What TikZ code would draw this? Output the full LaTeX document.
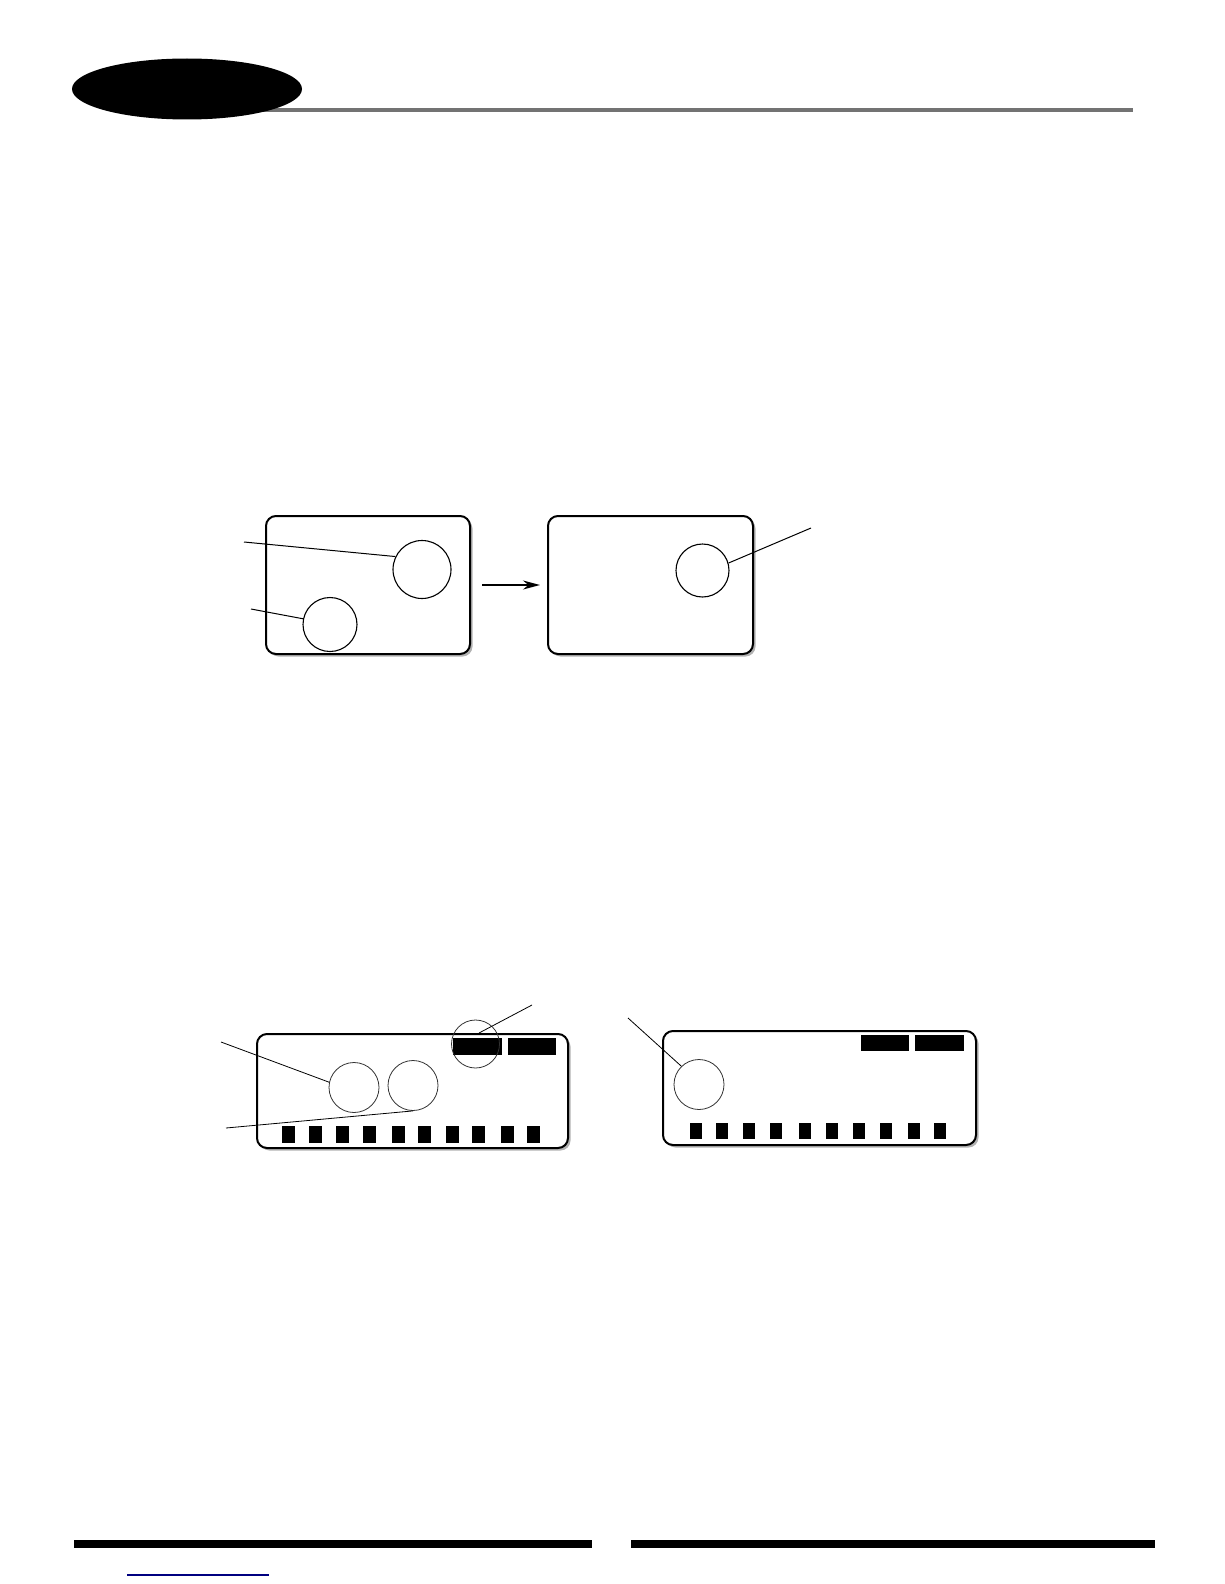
\documentclass[tikz,border=0pt]{standalone}
\usetikzlibrary{shapes, arrows.meta, shadows}

\begin{document}
\begin{tikzpicture}[
        x = 1pt, y = -1pt,
        every node/.style = {inner sep=0pt},
        screen/.style = {rectangle, draw, line width=2pt, rounded corners=10pt, fill=white,
            drop shadow={shadow xshift=2.5pt, shadow yshift=-2.5pt, fill=black!60}},
        spot/.style = {circle, draw, line width=1.1pt},
        thinspot/.style = {circle, draw=black!80, line width=0.8pt},
        leader/.style = {draw, line width=1pt},
        line/.style = {draw, line width=1.6pt, -{Stealth[length=17pt, width=9pt]}},
        key/.style = {fill=black}
    ]
    \useasboundingbox (0,0) rectangle (1224,1584);

    % Header
    \draw [line width=4pt, black!55] (200,110) -- (1133,110);
    \node (badge) [ellipse, fill, minimum width=230pt, minimum height=61pt] at (187,89) {};

    % Nodes
    \node (before) [screen, minimum width=204pt, minimum height=138pt] at (368,585) {};
    \node (after) [screen, minimum width=205pt, minimum height=138pt] at (650.5,585) {};
    \node (spotA) [spot, minimum size=58pt] at (422,569.5) {};
    \node (spotB) [spot, minimum size=54pt] at (330,624.5) {};
    \node (spotC) [spot, minimum size=53pt] at (702.5,570.5) {};

    % Lines
    \path [line, shorten <=11pt, shorten >=7pt] (before) -- (after);
    \coordinate (tagA) at (244,542);
    \coordinate (tagB) at (251,609);
    \coordinate (tagC) at (811,528);
    \path [leader] (tagA) -- (spotA.154);
    \path [leader] (tagB) -- (spotB.168);
    \path [leader] (spotC.16) -- (tagC);

    % Panels
    \node (panelL) [screen, minimum width=311pt, minimum height=114pt] at (412.5,1091) {};
    \node (panelR) [screen, minimum width=313pt, minimum height=114pt] at (819.5,1088) {};
    \fill [key] (453,1038) rectangle (502,1055);
    \fill [key] (508,1038) rectangle (556,1055);
    \fill [key] (861,1035) rectangle (909,1051);
    \fill [key] (915,1035) rectangle (964,1051);
    \foreach \kx in {282, 309, 336, 363, 392, 418, 446, 472, 501, 527}
        \fill [key] (\kx,1126) rectangle ++(12.5,17);
    \foreach \kx in {690, 716, 743, 770, 799, 826, 853, 880, 908, 934}
        \fill [key] (\kx,1123) rectangle ++(12,16);
    \node (spotD) [thinspot, minimum size=48pt] at (475.5,1044) {};
    \node (spotE) [thinspot, minimum size=50pt] at (354,1087.5) {};
    \node (spotF) [thinspot, minimum size=50pt] at (413,1085.5) {};
    \node (spotG) [thinspot, minimum size=50pt] at (699,1084.5) {};

    % Leaders of the panels
    \coordinate (tagD) at (532,1005);
    \coordinate (tagE) at (221,1042);
    \coordinate (tagF) at (226,1128);
    \coordinate (tagG) at (628,1018);
    \path [leader, line width=0.8pt] (tagD) -- ([shift={(3.5,-11)}]spotD.center);
    \path [leader, line width=0.8pt] (tagE) -- (spotE.168);
    \path [leader, line width=0.8pt] (tagF) -- (spotF.south);
    \path [leader, line width=0.8pt] (tagG) -- (spotG.134);

    % Footer
    \fill (74,1540) rectangle (592,1548);
    \fill (631,1540) rectangle (1155,1548);
    \draw [line width=1.2pt, blue!50!black] (127,1575) -- (269,1575);
\end{tikzpicture}
\end{document}
